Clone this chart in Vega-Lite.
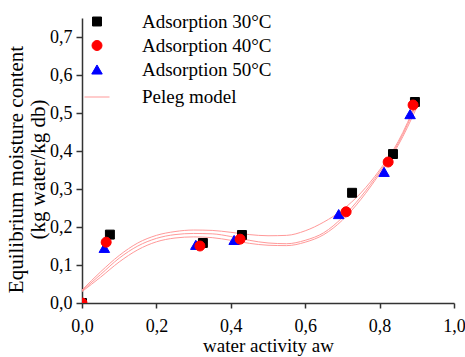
{
  "$schema": "https://vega.github.io/schema/vega-lite/v6.json",
  "width": 372,
  "height": 285,
  "autosize": {"type": "none"},
  "padding": {"left": 82, "top": 18, "right": 11, "bottom": 54},
  "background": "white",
  "config": {
    "view": {"stroke": null},
    "font": "Liberation Serif",
    "axis": {
      "grid": false,
      "domainColor": "#333333",
      "domainWidth": 1.5,
      "tickColor": "#333333",
      "tickWidth": 1.5,
      "labelFont": "Liberation Serif",
      "labelFontSize": 18,
      "labelColor": "#000000",
      "titleFont": "Liberation Serif",
      "titleFontSize": 19,
      "titleFontWeight": "normal",
      "titleColor": "#000000"
    },
    "legend": {
      "labelFont": "Liberation Serif",
      "labelFontSize": 19,
      "labelColor": "#000000",
      "symbolStrokeWidth": 1
    }
  },
  "layer": [
    {
      "data": {
        "values": [
          {"curve": "A", "aw": 0.0, "m": 0.034},
          {"curve": "A", "aw": 0.05, "m": 0.082},
          {"curve": "A", "aw": 0.1, "m": 0.125},
          {"curve": "A", "aw": 0.15, "m": 0.158},
          {"curve": "A", "aw": 0.2, "m": 0.178},
          {"curve": "A", "aw": 0.25, "m": 0.188},
          {"curve": "A", "aw": 0.3, "m": 0.192},
          {"curve": "A", "aw": 0.35, "m": 0.191},
          {"curve": "A", "aw": 0.4, "m": 0.186},
          {"curve": "A", "aw": 0.45, "m": 0.18},
          {"curve": "A", "aw": 0.5, "m": 0.177},
          {"curve": "A", "aw": 0.55, "m": 0.178},
          {"curve": "A", "aw": 0.6, "m": 0.19},
          {"curve": "A", "aw": 0.65, "m": 0.213},
          {"curve": "A", "aw": 0.7, "m": 0.245},
          {"curve": "A", "aw": 0.75, "m": 0.29},
          {"curve": "A", "aw": 0.8, "m": 0.35},
          {"curve": "A", "aw": 0.85, "m": 0.425},
          {"curve": "A", "aw": 0.9, "m": 0.53},
          {"curve": "B", "aw": 0.0, "m": 0.032},
          {"curve": "B", "aw": 0.05, "m": 0.075},
          {"curve": "B", "aw": 0.1, "m": 0.118},
          {"curve": "B", "aw": 0.15, "m": 0.15},
          {"curve": "B", "aw": 0.2, "m": 0.17},
          {"curve": "B", "aw": 0.25, "m": 0.18},
          {"curve": "B", "aw": 0.3, "m": 0.183},
          {"curve": "B", "aw": 0.35, "m": 0.182},
          {"curve": "B", "aw": 0.4, "m": 0.175},
          {"curve": "B", "aw": 0.45, "m": 0.165},
          {"curve": "B", "aw": 0.5, "m": 0.158},
          {"curve": "B", "aw": 0.55, "m": 0.156},
          {"curve": "B", "aw": 0.6, "m": 0.165},
          {"curve": "B", "aw": 0.65, "m": 0.185},
          {"curve": "B", "aw": 0.7, "m": 0.225},
          {"curve": "B", "aw": 0.75, "m": 0.28},
          {"curve": "B", "aw": 0.8, "m": 0.345},
          {"curve": "B", "aw": 0.85, "m": 0.42},
          {"curve": "B", "aw": 0.9, "m": 0.525},
          {"curve": "C", "aw": 0.0, "m": 0.03},
          {"curve": "C", "aw": 0.05, "m": 0.068},
          {"curve": "C", "aw": 0.1, "m": 0.108},
          {"curve": "C", "aw": 0.15, "m": 0.14},
          {"curve": "C", "aw": 0.2, "m": 0.161},
          {"curve": "C", "aw": 0.25, "m": 0.171},
          {"curve": "C", "aw": 0.3, "m": 0.174},
          {"curve": "C", "aw": 0.35, "m": 0.172},
          {"curve": "C", "aw": 0.4, "m": 0.165},
          {"curve": "C", "aw": 0.45, "m": 0.157},
          {"curve": "C", "aw": 0.5, "m": 0.152},
          {"curve": "C", "aw": 0.55, "m": 0.151},
          {"curve": "C", "aw": 0.6, "m": 0.16},
          {"curve": "C", "aw": 0.65, "m": 0.18},
          {"curve": "C", "aw": 0.7, "m": 0.218},
          {"curve": "C", "aw": 0.75, "m": 0.273},
          {"curve": "C", "aw": 0.8, "m": 0.34},
          {"curve": "C", "aw": 0.85, "m": 0.415},
          {"curve": "C", "aw": 0.9, "m": 0.515}
        ]
      },
      "mark": {"type": "line", "color": "#ff9999", "strokeWidth": 1, "interpolate": "monotone", "clip": true},
      "encoding": {
        "x": {"field": "aw", "type": "quantitative"},
        "y": {"field": "m", "type": "quantitative"},
        "detail": {"field": "curve", "type": "nominal"}
      }
    },
    {
      "data": {
        "values": [
          {"series": "Adsorption 30°C", "aw": 0.0, "m": 0.0},
          {"series": "Adsorption 30°C", "aw": 0.075, "m": 0.18},
          {"series": "Adsorption 30°C", "aw": 0.325, "m": 0.158},
          {"series": "Adsorption 30°C", "aw": 0.43, "m": 0.179},
          {"series": "Adsorption 30°C", "aw": 0.726, "m": 0.29},
          {"series": "Adsorption 30°C", "aw": 0.836, "m": 0.392},
          {"series": "Adsorption 30°C", "aw": 0.895, "m": 0.529},
          {"series": "Adsorption 50°C", "aw": 0.0, "m": 0.0},
          {"series": "Adsorption 50°C", "aw": 0.06, "m": 0.145},
          {"series": "Adsorption 50°C", "aw": 0.306, "m": 0.153},
          {"series": "Adsorption 50°C", "aw": 0.409, "m": 0.166},
          {"series": "Adsorption 50°C", "aw": 0.69, "m": 0.234},
          {"series": "Adsorption 50°C", "aw": 0.812, "m": 0.345},
          {"series": "Adsorption 50°C", "aw": 0.882, "m": 0.497},
          {"series": "Adsorption 40°C", "aw": 0.0, "m": 0.0},
          {"series": "Adsorption 40°C", "aw": 0.065, "m": 0.16},
          {"series": "Adsorption 40°C", "aw": 0.317, "m": 0.15},
          {"series": "Adsorption 40°C", "aw": 0.425, "m": 0.168},
          {"series": "Adsorption 40°C", "aw": 0.71, "m": 0.24},
          {"series": "Adsorption 40°C", "aw": 0.823, "m": 0.371},
          {"series": "Adsorption 40°C", "aw": 0.89, "m": 0.521}
        ]
      },
      "mark": {"type": "point", "filled": true, "opacity": 1, "strokeWidth": 1, "clip": true},
      "encoding": {
        "x": {
          "field": "aw", "type": "quantitative",
          "scale": {"domain": [0, 1], "nice": false, "zero": false},
          "axis": {
            "values": [0, 0.2, 0.4, 0.6, 0.8, 1.0],
            "labelExpr": "replace(format(datum.value, '.1f'), '.', ',')",
            "labelFont": "Liberation Serif",
            "labelFontSize": 18,
            "labelFlush": false,
            "labelOverlap": false,
            "tickSize": 5,
            "labelPadding": 9,
            "title": "water activity aw",
            "titleFont": "Liberation Serif",
            "titlePadding": 1
          }
        },
        "y": {
          "field": "m", "type": "quantitative",
          "scale": {"domain": [0, 0.75], "nice": false, "zero": false},
          "axis": {
            "values": [0, 0.1, 0.2, 0.3, 0.4, 0.5, 0.6, 0.7],
            "labelExpr": "replace(format(datum.value, '.1f'), '.', ',')",
            "labelFont": "Liberation Serif",
            "labelFontSize": 18,
            "labelFlush": false,
            "labelOverlap": false,
            "tickSize": 6,
            "labelPadding": 4,
            "title": ["Equilibrium moisture content", "(kg water/kg db)"],
            "titleFont": "Liberation Serif",
            "titleFontSize": 21,
            "titleLineHeight": 22,
            "titleAnchor": "middle",
            "titleX": -56,
            "titleY": 151,
            "titleAlign": "center",
            "titleBaseline": "bottom"
          }
        },
        "fill": {
          "field": "series", "type": "nominal",
          "scale": {
            "domain": ["Adsorption 30°C", "Adsorption 40°C", "Adsorption 50°C", "Peleg model"],
            "range": ["#000000", "#ff0000", "#0000ff", "#ff9999"]
          },
          "legend": {
            "title": null,
            "orient": "none",
            "legendX": 2,
            "legendY": -6,
            "padding": 0,
            "labelOffset": 32,
            "rowPadding": 4
          }
        },
        "stroke": {
          "field": "series", "type": "nominal",
          "scale": {
            "domain": ["Adsorption 30°C", "Adsorption 40°C", "Adsorption 50°C", "Peleg model"],
            "range": ["#000000", "#ff0000", "#0000ff", "#ff9999"]
          },
          "legend": {
            "title": null,
            "orient": "none",
            "legendX": 2,
            "legendY": -6,
            "padding": 0,
            "labelOffset": 32,
            "rowPadding": 4
          }
        },
        "shape": {
          "field": "series", "type": "nominal",
          "scale": {
            "domain": ["Adsorption 30°C", "Adsorption 40°C", "Adsorption 50°C", "Peleg model"],
            "range": ["square", "circle", "triangle-up", "stroke"]
          },
          "legend": {
            "title": null,
            "orient": "none",
            "legendX": 2,
            "legendY": -6,
            "padding": 0,
            "labelOffset": 32,
            "rowPadding": 4
          }
        },
        "size": {
          "field": "series", "type": "nominal",
          "scale": {
            "type": "ordinal",
            "domain": ["Adsorption 30°C", "Adsorption 40°C", "Adsorption 50°C", "Peleg model"],
            "range": [80, 100, 110, 625]
          },
          "legend": {
            "title": null,
            "orient": "none",
            "legendX": 2,
            "legendY": -6,
            "padding": 0,
            "labelOffset": 32,
            "rowPadding": 4
          }
        }
      }
    }
  ]
}
